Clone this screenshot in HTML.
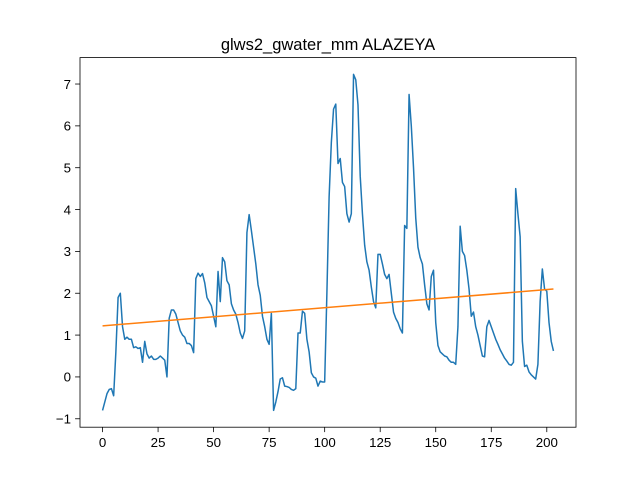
<!DOCTYPE html>
<html><head><meta charset="utf-8"><style>
body{margin:0;background:#fff;}
svg{display:block;font-family:"Liberation Sans","DejaVu Sans",sans-serif;}
</style></head><body>
<svg id="chart" width="640" height="480">
<rect x="0" y="0" width="640" height="480" fill="#fff"/>
<text x="328" y="50" text-anchor="middle" font-size="16.5">glws2_gwater_mm ALAZEYA</text>
<g id="plot"></g>
<rect x="80" y="57.6" width="496" height="369.6" fill="none" stroke="#000" stroke-width="0.8"/>
</svg>
<script>
const values = [-0.8,-0.6,-0.4,-0.3,-0.28,-0.45,0.6,1.9,2.0,1.2,0.9,0.95,0.9,0.9,0.7,0.72,0.68,0.7,0.35,0.85,0.55,0.45,0.5,0.42,0.42,0.45,0.5,0.45,0.4,0.0,
1.4,1.6,1.6,1.5,1.3,1.1,1.0,0.95,0.8,0.8,0.75,0.58,2.35,2.48,2.4,2.47,2.25,1.9,1.8,1.7,1.45,1.2,2.52,1.8,2.85,2.75,2.3,2.2,1.75,1.6,
1.5,1.3,1.05,0.92,1.1,3.45,3.88,3.5,3.1,2.7,2.2,1.95,1.45,1.2,0.9,0.78,1.52,-0.8,-0.6,-0.35,-0.05,-0.02,-0.22,-0.23,-0.25,-0.3,-0.32,-0.28,1.05,1.05,
1.57,1.52,0.9,0.6,0.1,0.0,-0.03,-0.22,-0.1,-0.12,-0.12,2.0,4.3,5.6,6.4,6.52,5.1,5.22,4.65,4.55,3.9,3.7,3.9,7.23,7.1,6.5,4.8,3.9,3.15,2.75,
2.55,2.15,1.8,1.65,2.93,2.93,2.7,2.45,2.35,2.45,2.0,1.55,1.4,1.3,1.15,1.05,3.62,3.55,6.75,6.0,5.0,3.8,3.1,2.85,2.7,2.2,1.75,1.6,2.4,2.55,
1.3,0.75,0.6,0.55,0.5,0.48,0.4,0.35,0.35,0.3,1.2,3.6,3.0,2.9,2.55,2.1,1.45,1.55,1.2,1.0,0.75,0.5,0.48,1.2,1.35,1.2,1.05,0.9,0.78,0.65,
0.55,0.45,0.38,0.3,0.28,0.35,4.5,3.9,3.35,0.85,0.25,0.28,0.12,0.05,0.0,-0.05,0.3,1.8,2.58,2.1,2.05,1.3,0.85,0.62];
const trendStart = 1.22;
const trendEnd = 2.1;
const xTicks = [0,25,50,75,100,125,150,175,200];
const yTicks = [-1,0,1,2,3,4,5,6,7];

const L=80,R=576,T=57.6,B=427.2;
const n=values.length;
const xmin=-(n-1)*0.05, xmax=(n-1)*1.05;
let vmin=Math.min(...values), vmax=Math.max(...values);
const pad=(vmax-vmin)*0.05;
const ymin=vmin-pad, ymax=vmax+pad;
const X=v=>L+(v-xmin)/(xmax-xmin)*(R-L);
const Y=v=>B-(v-ymin)/(ymax-ymin)*(B-T);
const NS="http://www.w3.org/2000/svg";
const g=document.getElementById('plot');
function mk(t,a){const e=document.createElementNS(NS,t);for(const k in a)e.setAttribute(k,a[k]);g.appendChild(e);return e;}

xTicks.forEach(t=>{
  const l=mk('line',{x1:X(t),x2:X(t),y1:B,y2:B+4.9,stroke:'#000','stroke-width':0.8});
  
  
  const s=mk('text',{x:X(t),y:B+20,'text-anchor':'middle','font-size':13.3});
  s.textContent=t;
  
  
});
yTicks.forEach(t=>{
  const l=mk('line',{x1:L-4.9,x2:L,y1:Y(t),y2:Y(t),stroke:'#000','stroke-width':0.8});
  
  
  const s=mk('text',{x:L-9,y:Y(t)+4.8,'text-anchor':'end','font-size':13.3});
  s.textContent=t<0?'\u22121':t;
  
  
});
const d=values.map((v,i)=>(i?'L':'M')+X(i).toFixed(2)+','+Y(v).toFixed(2)).join('');
const p=mk('path',{d:d,fill:'none',stroke:'#1f77b4','stroke-width':1.5,'stroke-linejoin':'round'});


const tl=mk('line',{x1:X(0),y1:Y(trendStart),x2:X(n-1),y2:Y(trendEnd),stroke:'#ff7f0e','stroke-width':1.5});


</script>
</body></html>
